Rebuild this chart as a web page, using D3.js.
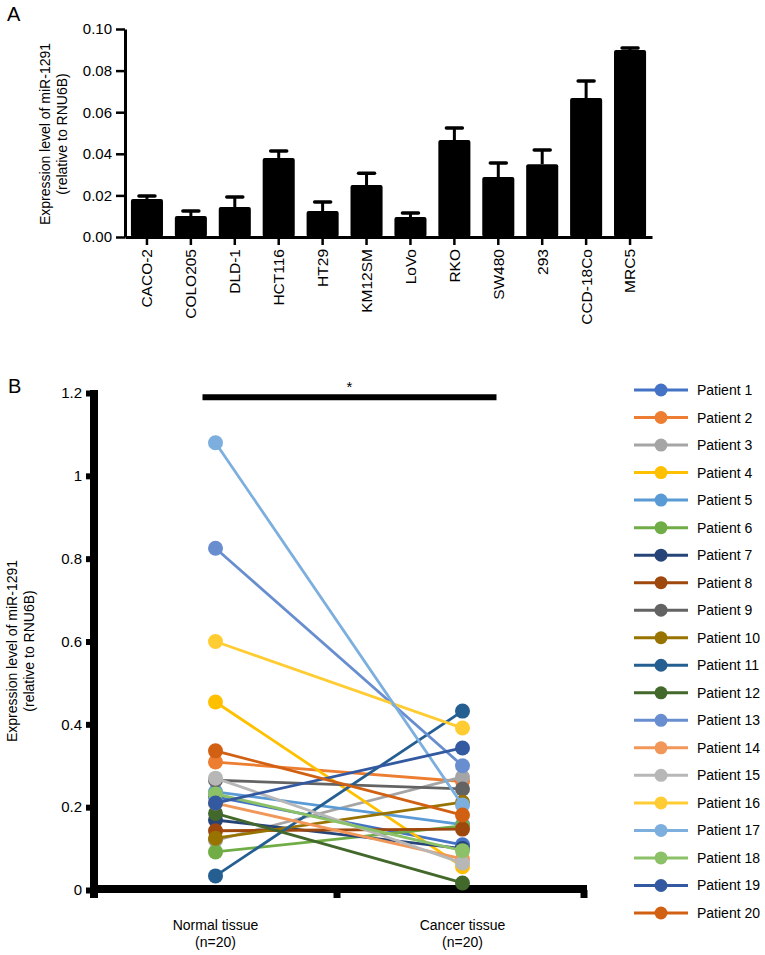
<!DOCTYPE html>
<html>
<head>
<meta charset="utf-8">
<script src="https://cdn.jsdelivr.net/npm/d3@7"></script>
<style>
  html, body { margin: 0; padding: 0; background: #fff; }
  svg { display: block; }
  text { font-family: "Liberation Sans", Arial, Helvetica, sans-serif; fill: #000; }
</style>
</head>
<body>
<svg id="chart" width="765" height="955"></svg>
<script>
// ---------- Panel A data ----------
const cellLines = ["CACO-2", "COLO205", "DLD-1", "HCT116", "HT29", "KM12SM", "LoVo", "RKO", "SW480", "293", "CCD-18Co", "MRC5"];
const meanValues = [0.0183, 0.0101, 0.0144, 0.0380, 0.0125, 0.0250, 0.0096, 0.0466, 0.0288, 0.0350, 0.0668, 0.0899];
const errorValues = [0.0014, 0.0024, 0.0048, 0.0033, 0.0043, 0.0057, 0.0019, 0.0058, 0.0068, 0.0068, 0.0082, 0.0010];
const tickValuesA = [0, 0.02, 0.04, 0.06, 0.08, 0.10];

// ---------- Panel B data ----------
const tissueGroups = ["Normal tissue", "Cancer tissue"];
const groupSubLabels = ["(n=20)", "(n=20)"];
const patients = ["Patient 1", "Patient 2", "Patient 3", "Patient 4", "Patient 5", "Patient 6", "Patient 7", "Patient 8", "Patient 9", "Patient 10",
                  "Patient 11", "Patient 12", "Patient 13", "Patient 14", "Patient 15", "Patient 16", "Patient 17", "Patient 18", "Patient 19", "Patient 20"];
const normalValues = [0.225, 0.309, 0.120, 0.454, 0.237, 0.092, 0.169, 0.143, 0.265, 0.125,
                      0.034, 0.185, 0.825, 0.210, 0.270, 0.600, 1.080, 0.232, 0.210, 0.336];
const cancerValues = [0.109, 0.262, 0.273, 0.056, 0.158, 0.155, 0.100, 0.147, 0.244, 0.212,
                      0.432, 0.017, 0.300, 0.075, 0.065, 0.391, 0.205, 0.095, 0.343, 0.181];
const patientColors = ["#4472C4", "#ED7D31", "#A5A5A5", "#FFC000", "#5B9BD5", "#70AD47", "#264478", "#9E480E", "#636363", "#997300",
                       "#255E91", "#43682B", "#698ED0", "#F1975A", "#B7B7B7", "#FFCD33", "#7CAFDD", "#8CC168", "#335AA1", "#D26012"];
const tickValuesB = [0, 0.2, 0.4, 0.6, 0.8, 1.0, 1.2];
const tickLabelsB = ["0", "0.2", "0.4", "0.6", "0.8", "1", "1.2"];
const sigLevel = 1.19;
const sigLabel = "*";

const svg = d3.select("#chart");
svg.append("rect").attr("width", 765).attr("height", 955).attr("fill", "#fff");

// =============== PANEL A ===============
const A = { left: 125, right: 652, top: 29, bottom: 237 };
const xA = d3.scaleBand().domain(cellLines).range([A.left, A.right]).paddingInner(0.27).paddingOuter(0.135);
const yA = d3.scaleLinear().domain([0, 0.10]).range([A.bottom, A.top]);

svg.append("text").attr("x", 7).attr("y", 21).attr("font-size", 20).text("A");

const gA = svg.append("g");
// bars
gA.selectAll("rect.bar").data(cellLines).join("rect")
  .attr("class", "bar")
  .attr("x", d => xA(d))
  .attr("y", (d, i) => yA(meanValues[i]))
  .attr("width", xA.bandwidth())
  .attr("height", (d, i) => yA(0) - yA(meanValues[i]))
  .attr("rx", 2)
  .attr("fill", "#000");
// error bars
gA.selectAll("line.err").data(cellLines).join("line")
  .attr("class", "err")
  .attr("x1", d => xA(d) + xA.bandwidth() / 2)
  .attr("x2", d => xA(d) + xA.bandwidth() / 2)
  .attr("y1", (d, i) => yA(meanValues[i]))
  .attr("y2", (d, i) => yA(meanValues[i] + errorValues[i]))
  .attr("stroke", "#000").attr("stroke-width", 3);
gA.selectAll("line.cap").data(cellLines).join("line")
  .attr("class", "cap")
  .attr("x1", d => xA(d) + xA.bandwidth() / 2 - 8)
  .attr("x2", d => xA(d) + xA.bandwidth() / 2 + 8)
  .attr("y1", (d, i) => yA(meanValues[i] + errorValues[i]))
  .attr("y2", (d, i) => yA(meanValues[i] + errorValues[i]))
  .attr("stroke", "#000").attr("stroke-width", 3.5).attr("stroke-linecap", "round");

// y axis A
const yAxisA = svg.append("g").attr("transform", `translate(${A.left},0)`)
  .call(d3.axisLeft(yA).tickValues(tickValuesA).tickFormat(d3.format(".2f")).tickSize(9).tickSizeOuter(0).tickPadding(4));
yAxisA.selectAll("path.domain").attr("stroke", "#000").attr("stroke-width", 3);
yAxisA.selectAll(".tick line").attr("stroke", "#000").attr("stroke-width", 2.5);
yAxisA.selectAll(".tick text").attr("font-size", 15).attr("fill", "#000")
  .style("font-family", '"Liberation Sans", Arial, Helvetica, sans-serif');

// x axis A
const xAxisA = svg.append("g").attr("transform", `translate(0,${A.bottom})`)
  .call(d3.axisBottom(xA).tickSize(8).tickSizeOuter(0));
xAxisA.selectAll("path.domain").attr("stroke", "#000").attr("stroke-width", 3);
xAxisA.selectAll(".tick line").attr("stroke", "#000").attr("stroke-width", 2.5);
xAxisA.selectAll(".tick text")
  .attr("transform", "rotate(-90)")
  .attr("x", -12).attr("y", 0).attr("dy", "0.35em")
  .attr("text-anchor", "end")
  .attr("font-size", 15.5).attr("fill", "#000")
  .style("font-family", '"Liberation Sans", Arial, Helvetica, sans-serif');

// y label A
const yLabA = svg.append("text")
  .attr("transform", `translate(50,134) rotate(-90)`)
  .attr("text-anchor", "middle").attr("font-size", 14);
yLabA.append("tspan").attr("x", 0).attr("y", 0).text("Expression level of miR-1291");
yLabA.append("tspan").attr("x", 0).attr("y", 17).text("(relative to RNU6B)");

// =============== PANEL B ===============
const B = { left: 92, right: 586, top: 393, bottom: 890 };
const xB = d3.scaleBand().domain(tissueGroups).range([B.left, B.right]);
const yB = d3.scaleLinear().domain([0, 1.2]).range([B.bottom, B.top]);
const cx = g => xB(g) + xB.bandwidth() / 2;

svg.append("text").attr("x", 8).attr("y", 393).attr("font-size", 20).text("B");

// y label B
const yLabB = svg.append("text")
  .attr("transform", `translate(17,651) rotate(-90)`)
  .attr("text-anchor", "middle").attr("font-size", 14);
yLabB.append("tspan").attr("x", 0).attr("y", 0).text("Expression level of miR-1291");
yLabB.append("tspan").attr("x", 0).attr("y", 17).text("(relative to RNU6B)");

// y axis B
const yAxisB = svg.append("g").attr("transform", `translate(93,0)`)
  .call(d3.axisLeft(yB).tickValues(tickValuesB).tickFormat((d, i) => tickLabelsB[i]).tickSize(7).tickSizeOuter(0).tickPadding(4));
yAxisB.select("path.domain").remove();
yAxisB.selectAll(".tick line").attr("stroke", "#000").attr("stroke-width", 6);
yAxisB.selectAll(".tick text").attr("font-size", 15).attr("fill", "#000")
  .style("font-family", '"Liberation Sans", Arial, Helvetica, sans-serif');
svg.append("line").attr("x1", 94).attr("x2", 94).attr("y1", yB(1.2) - 3).attr("y2", yB(0) + 8)
  .attr("stroke", "#000").attr("stroke-width", 8);

// x axis B
svg.append("line").attr("x1", 90).attr("x2", B.right + 1).attr("y1", yB(0) - 1).attr("y2", yB(0) - 1)
  .attr("stroke", "#000").attr("stroke-width", 8);
svg.selectAll("line.xtickB").data(tissueGroups).join("line")
  .attr("class", "xtickB")
  .attr("x1", d => xB(d) + xB.bandwidth() - 2).attr("x2", d => xB(d) + xB.bandwidth() - 2)
  .attr("y1", yB(0)).attr("y2", yB(0) + 8)
  .attr("stroke", "#000").attr("stroke-width", 7);

const xLabB = svg.selectAll("text.xlabB").data(tissueGroups).join("text")
  .attr("class", "xlabB").attr("text-anchor", "middle").attr("font-size", 14);
xLabB.append("tspan").attr("x", d => cx(d)).attr("y", 930).text(d => d);
xLabB.append("tspan").attr("x", d => cx(d)).attr("y", 947).text((d, i) => groupSubLabels[i]);

// significance bar
svg.append("line")
  .attr("x1", cx(tissueGroups[0]) - 13).attr("x2", cx(tissueGroups[1]) + 34)
  .attr("y1", yB(sigLevel)).attr("y2", yB(sigLevel))
  .attr("stroke", "#000").attr("stroke-width", 6);
svg.append("text")
  .attr("x", (cx(tissueGroups[0]) - 13 + cx(tissueGroups[1]) + 34) / 2)
  .attr("y", yB(sigLevel) - 5)
  .attr("text-anchor", "middle").attr("font-size", 15).text(sigLabel);

// patient series
const series = patients.map((p, i) => ({ name: p, color: patientColors[i], values: [normalValues[i], cancerValues[i]] }));
const line = d3.line().x((d, j) => cx(tissueGroups[j])).y(d => yB(d));
const gS = svg.selectAll("g.series").data(series).join("g").attr("class", "series");
gS.append("path")
  .attr("d", d => line(d.values))
  .attr("fill", "none").attr("stroke", d => d.color).attr("stroke-width", 2.8);
gS.selectAll("circle").data(d => d.values.map((v, j) => ({ v, j, color: d.color }))).join("circle")
  .attr("cx", d => cx(tissueGroups[d.j]))
  .attr("cy", d => yB(d.v))
  .attr("r", 7.5)
  .attr("fill", d => d.color);

// legend
const legY = d3.scaleLinear().domain([0, patients.length - 1]).range([390, 913]);
const gL = svg.selectAll("g.leg").data(series).join("g").attr("class", "leg")
  .attr("transform", (d, i) => `translate(0,${legY(i)})`);
gL.append("line").attr("x1", 634).attr("x2", 688).attr("y1", 0).attr("y2", 0)
  .attr("stroke", d => d.color).attr("stroke-width", 3);
gL.append("circle").attr("cx", 661).attr("cy", 0).attr("r", 6.5).attr("fill", d => d.color);
gL.append("text").attr("x", 697).attr("y", 5).attr("font-size", 14).text(d => d.name);
</script>
</body>
</html>
